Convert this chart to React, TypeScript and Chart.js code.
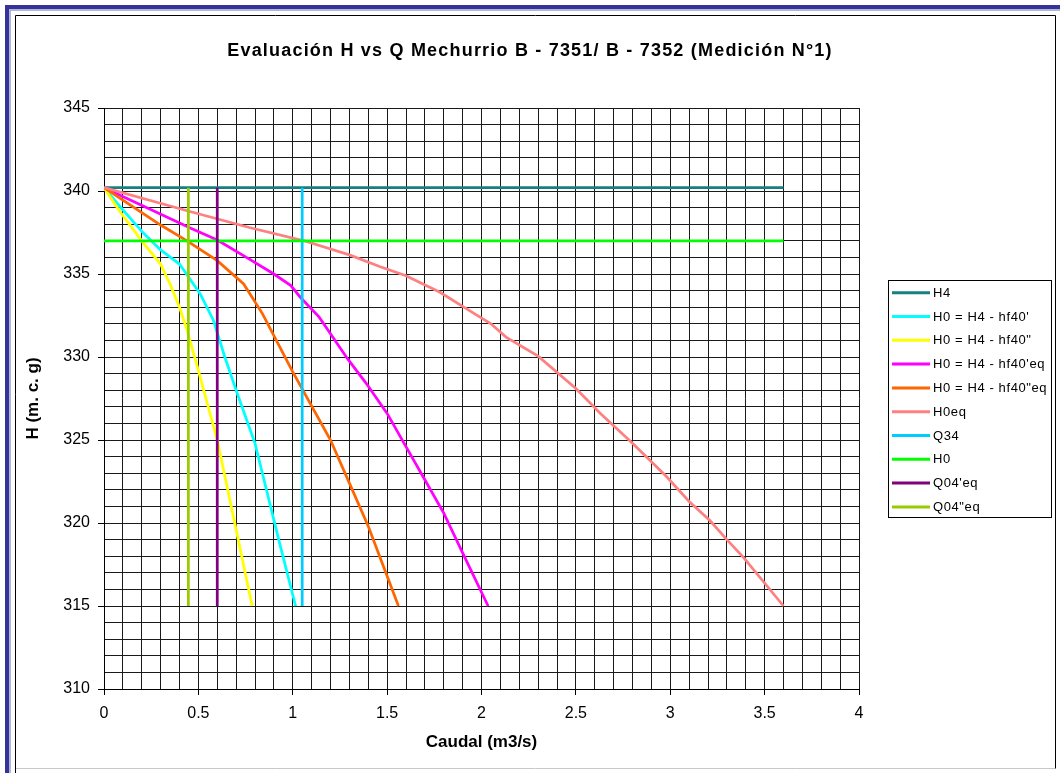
import React, { useEffect, useRef } from 'react';
import { Chart, registerables } from 'chart.js';

Chart.register(...registerables);

const TITLE = 'Evaluación H vs Q Mechurrio B - 7351/ B - 7352 (Medición N°1)';
const X_TITLE = 'Caudal (m3/s)';
const Y_TITLE = 'H (m. c. g)';

const X_MAJOR_TICKS = [0, 0.5, 1, 1.5, 2, 2.5, 3, 3.5, 4];
const Y_MAJOR_TICKS = [310, 315, 320, 325, 330, 335, 340, 345];

const SERIES_NAMES = [
  'H4',
  "H0 = H4 - hf40'",
  'H0 = H4 - hf40"',
  "H0 = H4 - hf40'eq",
  'H0 = H4 - hf40"eq',
  'H0eq',
  'Q34',
  'H0',
  "Q04'eq",
  'Q04"eq',
];
const SERIES_COLORS = [
  '#168080',
  '#00FFFF',
  '#FFFF00',
  '#FF00FF',
  '#FF6600',
  '#FF8080',
  '#00CCFF',
  '#00FF00',
  '#800080',
  '#99CC00',
];

// H4
const H4_Q = [0, 3.6];
const H4_H = [340.2, 340.2];
// H0 = H4 - hf40'
const HF40P_Q = [0, 0.1, 0.21, 0.3, 0.4, 0.51, 0.58, 0.64, 0.7, 0.8, 0.93, 1.015];
const HF40P_H = [340.2, 338.86, 337.45, 336.45, 335.6, 333.8, 332.2, 330.0, 328.0, 324.8, 318.8, 315];
// H0 = H4 - hf40"
const HF40PP_Q = [0, 0.085, 0.21, 0.3, 0.35, 0.4, 0.44, 0.49, 0.6, 0.7, 0.785];
const HF40PP_H = [340.2, 338.75, 336.85, 335.6, 334.4, 333.0, 331.6, 329.6, 325.0, 319.6, 315];
// H0 = H4 - hf40'eq
const HF40PEQ_Q = [0, 0.46, 0.6, 0.77, 0.9, 0.99, 1.04, 1.14, 1.2, 1.29, 1.39, 1.5, 1.59, 1.69, 1.8, 1.9, 2.035];
const HF40PEQ_H = [340.2, 337.75, 337.05, 335.9, 335.0, 334.3, 333.6, 332.4, 331.4, 329.9, 328.4, 326.6, 324.8, 322.8, 320.6, 318.2, 315];
// H0 = H4 - hf40"eq
const HF40PPEQ_Q = [0, 0.3, 0.44, 0.6, 0.74, 0.84, 1.0, 1.2, 1.3, 1.4, 1.56];
const HF40PPEQ_H = [340.2, 337.95, 337.0, 335.8, 334.4, 332.6, 329.1, 325.0, 322.4, 319.8, 315];
// H0eq
const H0EQ_Q = [0, 0.46, 0.77, 1.06, 1.3, 1.46, 1.6, 1.78, 1.9, 2.05, 2.13, 2.3, 2.5, 2.63, 2.8, 2.98, 3.1, 3.21, 3.3, 3.39, 3.6];
const H0EQ_H = [340.2, 338.75, 337.8, 337.0, 336.15, 335.45, 334.9, 333.9, 333.05, 332.0, 331.2, 330.05, 328.1, 326.6, 324.8, 322.8, 321.3, 320.15, 319.0, 317.9, 315];
// Q34
const Q34_Q = [1.05, 1.05];
const Q34_H = [315, 340.2];
// H0
const H0_Q = [0, 3.6];
const H0_H = [337.0, 337.0];
// Q04'eq
const Q04PEQ_Q = [0.6, 0.6];
const Q04PEQ_H = [315, 340.2];
// Q04"eq
const Q04PPEQ_Q = [0.447, 0.447];
const Q04PPEQ_H = [315, 340.2];

const SERIES_Q = [H4_Q, HF40P_Q, HF40PP_Q, HF40PEQ_Q, HF40PPEQ_Q, H0EQ_Q, Q34_Q, H0_Q, Q04PEQ_Q, Q04PPEQ_Q];
const SERIES_H = [H4_H, HF40P_H, HF40PP_H, HF40PEQ_H, HF40PPEQ_H, H0EQ_H, Q34_H, H0_H, Q04PEQ_H, Q04PPEQ_H];

const FONT = "'Liberation Sans', Arial, sans-serif";

const isMajor = (v: number, list: number[]) => list.some((m) => Math.abs(m - v) < 1e-6);

const decorPlugin = {
  id: 'decor',
  beforeDraw(chart: any) {
    const ctx = chart.ctx as CanvasRenderingContext2D;
    const w = chart.width;
    const h = chart.height;
    ctx.save();
    ctx.fillStyle = '#ffffff';
    ctx.fillRect(0, 0, w, h);
    ctx.fillStyle = '#333399';
    ctx.fillRect(5, 5, w - 5, 4);
    ctx.fillRect(5, 5, 4, h - 5);
    ctx.fillStyle = '#b4b4d8';
    ctx.fillRect(9, 9, w - 9, 2);
    ctx.fillRect(9, 9, 2, h - 9);
    ctx.strokeStyle = '#000000';
    ctx.lineWidth = 1;
    ctx.beginPath();
    ctx.moveTo(15.5, h);
    ctx.lineTo(15.5, 15.5);
    ctx.lineTo(1055.5, 15.5);
    ctx.lineTo(1055.5, 768.5);
    ctx.stroke();
    ctx.strokeStyle = '#c8c8c8';
    ctx.beginPath();
    ctx.moveTo(16, 768.5);
    ctx.lineTo(1055, 768.5);
    ctx.stroke();
    ctx.restore();
  },
  afterDraw(chart: any) {
    const ctx = chart.ctx as CanvasRenderingContext2D;
    ctx.save();
    // Title
    (ctx as any).letterSpacing = '1.2px';
    ctx.font = `bold 18px ${FONT}`;
    ctx.fillStyle = '#000000';
    ctx.textAlign = 'center';
    ctx.textBaseline = 'alphabetic';
    ctx.fillText(TITLE, 530, 56);

    // Legend box
    const left = 888;
    const top = 280;
    const boxW = 163;
    const boxH = 237;
    ctx.strokeStyle = '#000000';
    ctx.lineWidth = 1;
    ctx.strokeRect(left + 0.5, top + 0.5, boxW, boxH);
    (ctx as any).letterSpacing = '0.6px';
    ctx.font = `13px ${FONT}`;
    ctx.textAlign = 'left';
    ctx.textBaseline = 'middle';
    chart.data.datasets.forEach((ds: any, i: number) => {
      const y = top + 12.7 + i * 23.8;
      ctx.strokeStyle = ds.borderColor;
      ctx.lineWidth = 3;
      ctx.beginPath();
      ctx.moveTo(left + 4, y);
      ctx.lineTo(left + 42, y);
      ctx.stroke();
      ctx.fillStyle = '#000000';
      ctx.fillText(ds.label, left + 45, y + 0.5);
    });
    ctx.restore();
  },
};

export default function App() {
  const canvasRef = useRef<HTMLCanvasElement | null>(null);

  useEffect(() => {
    document.body.style.margin = '0';
    const canvas = canvasRef.current;
    if (!canvas) return;

    const datasets = SERIES_NAMES.map((name, i) => ({
      label: name,
      data: SERIES_Q[i].map((q, k) => ({ x: q, y: SERIES_H[i][k] })),
      borderColor: SERIES_COLORS[i],
      backgroundColor: SERIES_COLORS[i],
      borderWidth: 2.75,
      pointRadius: 0,
      pointHoverRadius: 0,
      tension: 0,
      fill: false,
      order: SERIES_NAMES.length - i,
    }));

    const chart = new Chart(canvas, {
      type: 'line',
      data: { datasets },
      plugins: [decorPlugin],
      options: {
        animation: false,
        responsive: false,
        maintainAspectRatio: false,
        events: [],
        layout: { padding: { left: 0, right: 201, top: 108, bottom: 16.8 } },
        plugins: {
          legend: { display: false },
          title: { display: false },
          tooltip: { enabled: false },
        },
        scales: {
          x: {
            type: 'linear',
            min: 0,
            max: 4,
            afterFit: (scale: any) => {
              scale.height = 67.2;
            },
            ticks: {
              stepSize: 0.1,
              autoSkip: false,
              maxRotation: 0,
              padding: 9,
              color: '#000000',
              font: { family: FONT, size: 16 },
              callback: (v: any) => {
                const n = Number(v);
                return isMajor(n, X_MAJOR_TICKS) ? String(Math.round(n * 10) / 10) : '';
              },
            },
            grid: {
              color: '#1a1a1a',
              lineWidth: 1,
              tickLength: 6,
              tickColor: (ctx: any) =>
                ctx.tick && isMajor(ctx.tick.value, X_MAJOR_TICKS) ? '#000000' : 'rgba(0,0,0,0)',
            },
            border: { color: '#000000', width: 1 },
            title: {
              display: true,
              text: X_TITLE,
              color: '#000000',
              font: { family: FONT, size: 17, weight: 'bold' },
              padding: { top: 4, bottom: 4 },
            },
          },
          y: {
            type: 'linear',
            min: 310,
            max: 345,
            afterFit: (scale: any) => {
              scale.width = 104;
            },
            ticks: {
              stepSize: 1,
              autoSkip: false,
              padding: 8,
              color: '#000000',
              font: { family: FONT, size: 16 },
              callback: (v: any) => {
                const n = Number(v);
                return isMajor(n, Y_MAJOR_TICKS) ? String(Math.round(n)) : '';
              },
            },
            grid: {
              color: '#1a1a1a',
              lineWidth: 1,
              tickLength: 6,
              tickColor: (ctx: any) =>
                ctx.tick && isMajor(ctx.tick.value, Y_MAJOR_TICKS) ? '#000000' : 'rgba(0,0,0,0)',
            },
            border: { color: '#000000', width: 1 },
            title: {
              display: true,
              text: Y_TITLE,
              color: '#000000',
              font: { family: FONT, size: 17, weight: 'bold' },
              padding: { top: 22.8, bottom: 4 },
            },
          },
        },
      } as any,
    });

    return () => {
      chart.destroy();
    };
  }, []);

  return (
    <div style={{ width: 1060, height: 773, position: 'relative', overflow: 'hidden' }}>
      <canvas ref={canvasRef} width={1060} height={773} style={{ display: 'block' }} />
    </div>
  );
}
